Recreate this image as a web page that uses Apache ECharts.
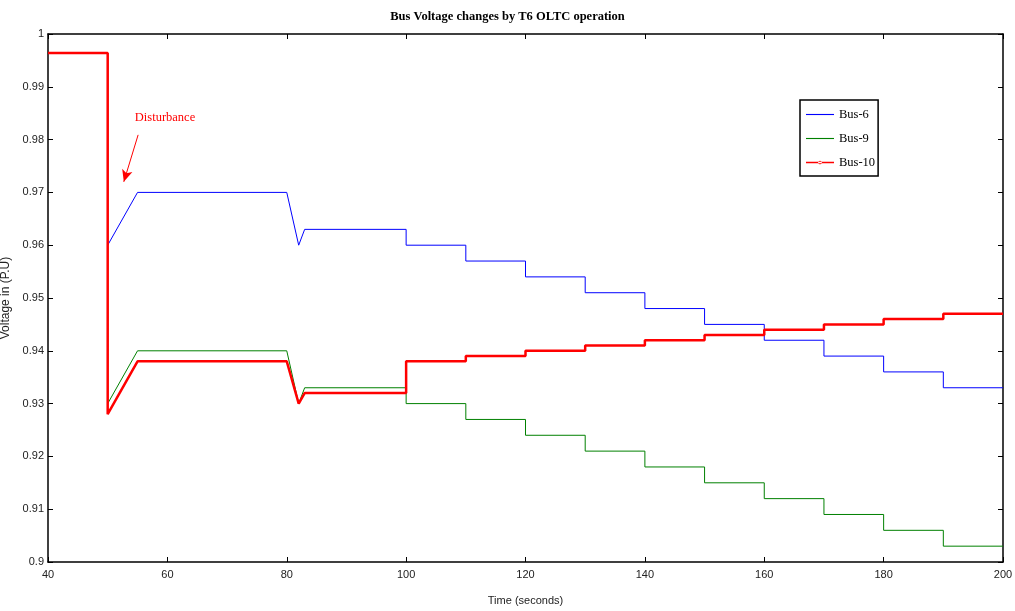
<!DOCTYPE html>
<html><head><meta charset="utf-8">
<script src="https://cdn.jsdelivr.net/npm/echarts@6/dist/echarts.min.js"></script>
<style>html,body{margin:0;padding:0;background:#fff}#c{width:1015px;height:611px}</style>
</head><body><div id="c"></div>
<script>
const times = [40,50,50,55,80,82,83,100,100,110,110,120,120,130,130,140,140,150,150,160,160,170,170,180,180,190,190,200];
const bus6  = [0.9964,0.9964,0.960,0.970,0.970,0.960,0.963,0.963,0.960,0.960,0.957,0.957,0.954,0.954,0.951,0.951,0.948,0.948,0.945,0.945,0.942,0.942,0.939,0.939,0.936,0.936,0.933,0.933];
const bus9  = [0.9964,0.9964,0.930,0.940,0.940,0.930,0.933,0.933,0.930,0.930,0.927,0.927,0.924,0.924,0.921,0.921,0.918,0.918,0.915,0.915,0.912,0.912,0.909,0.909,0.906,0.906,0.903,0.903];
const bus10 = [0.9964,0.9964,0.928,0.938,0.938,0.930,0.932,0.932,0.938,0.938,0.939,0.939,0.940,0.940,0.941,0.941,0.942,0.942,0.943,0.943,0.944,0.944,0.945,0.945,0.946,0.946,0.947,0.947];
const xTicks = [40,60,80,100,120,140,160,180,200];
const yTicks = [0.9,0.91,0.92,0.93,0.94,0.95,0.96,0.97,0.98,0.99,1];
const arrowFrom = [55.1, 0.9809], arrowTo = [52.7, 0.9720];
const noteAt = [59.6, 0.9841];

const pair = v => times.map((t,i)=>[t,v[i]]);
const tickFont = {fontFamily:'Liberation Sans', fontSize:11, color:'#222'};
const lineIcon = 'path://M0,0 L30,0 L30,1.2 L0,1.2 Z';
const dotIcon = 'path://M0,-0.9 L30,-0.9 L30,0.9 L0,0.9 Z M13,0 A2,2 0 1 0 17,0 A2,2 0 1 0 13,0 Z';
const chart = echarts.init(document.getElementById('c'));
chart.setOption({
  animation:false,
  title:{text:'Bus Voltage changes by T6 OLTC operation', left:'center', top:5,
    textStyle:{fontFamily:'Liberation Serif', fontWeight:'bold', fontSize:12.5, color:'#000'}},
  grid:{left:48,right:12,top:34,bottom:49,show:false,containLabel:false,outerBoundsMode:'none'},
  legend:{left:800, top:100, orient:'vertical', itemGap:11, itemWidth:28, itemHeight:14,
    borderColor:'#000', borderWidth:1.5, padding:[8,3,7,6],
    textStyle:{fontFamily:'Liberation Serif', fontSize:12.5, color:'#000'},
    data:[{name:'Bus-6',icon:lineIcon},{name:'Bus-9',icon:lineIcon},{name:'Bus-10',icon:dotIcon}]},
  xAxis:[{type:'value', min:40, max:200, interval:20, position:'bottom',
      name:'Time (seconds)', nameLocation:'middle', nameGap:33,
      nameTextStyle:{fontFamily:'Liberation Sans', fontSize:11, color:'#222'},
      axisLine:{lineStyle:{color:'#000',width:1.5}}, axisTick:{inside:true,length:5,lineStyle:{color:'#000'}},
      axisLabel:Object.assign({margin:7}, tickFont), splitLine:{show:false}},
    {type:'value', min:40, max:200, interval:20, position:'top',
      axisLine:{lineStyle:{color:'#000',width:1.5}}, axisTick:{inside:true,length:5,lineStyle:{color:'#000'}},
      axisLabel:{show:false}, splitLine:{show:false}}],
  yAxis:[{type:'value', min:0.9, max:1, interval:0.01, position:'left',
      name:'Voltage in (P.U)', nameLocation:'middle', nameGap:29,
      nameTextStyle:{fontFamily:'Liberation Sans', fontSize:12, color:'#222'},
      axisLine:{lineStyle:{color:'#000',width:1.5}}, axisTick:{inside:true,length:5,lineStyle:{color:'#000'}},
      axisLabel:Object.assign({margin:4, formatter:v=>String(+v.toFixed(2))}, tickFont), splitLine:{show:false}},
    {type:'value', min:0.9, max:1, interval:0.01, position:'right',
      axisLine:{lineStyle:{color:'#000',width:1.5}}, axisTick:{inside:true,length:5,lineStyle:{color:'#000'}},
      axisLabel:{show:false}, splitLine:{show:false}}],
  series:[
    {name:'Bus-6', type:'line', data:pair(bus6), symbol:'none', lineStyle:{color:'#0000ff',width:1}, itemStyle:{color:'#0000ff'}},
    {name:'Bus-9', type:'line', data:pair(bus9), symbol:'none', lineStyle:{color:'#008000',width:1}, itemStyle:{color:'#008000'}},
    {name:'Bus-10', type:'line', data:pair(bus10), symbol:'none',
      lineStyle:{color:'#ff0000',width:2.5}, itemStyle:{color:'#ff0000'},
      markLine:{silent:true, symbol:['none','arrow'], symbolSize:[8,12],
        lineStyle:{color:'#ff0000',width:1,type:'solid'}, label:{show:false},
        data:[[{coord:arrowFrom},{coord:arrowTo}]]},
      markPoint:{silent:true, symbol:'circle', symbolSize:1, itemStyle:{color:'rgba(0,0,0,0)'},
        label:{show:true, formatter:'Disturbance', color:'#ff0000', fontFamily:'Liberation Serif', fontSize:12.5},
        data:[{coord:noteAt}]}}
  ]
});
</script></body></html>
